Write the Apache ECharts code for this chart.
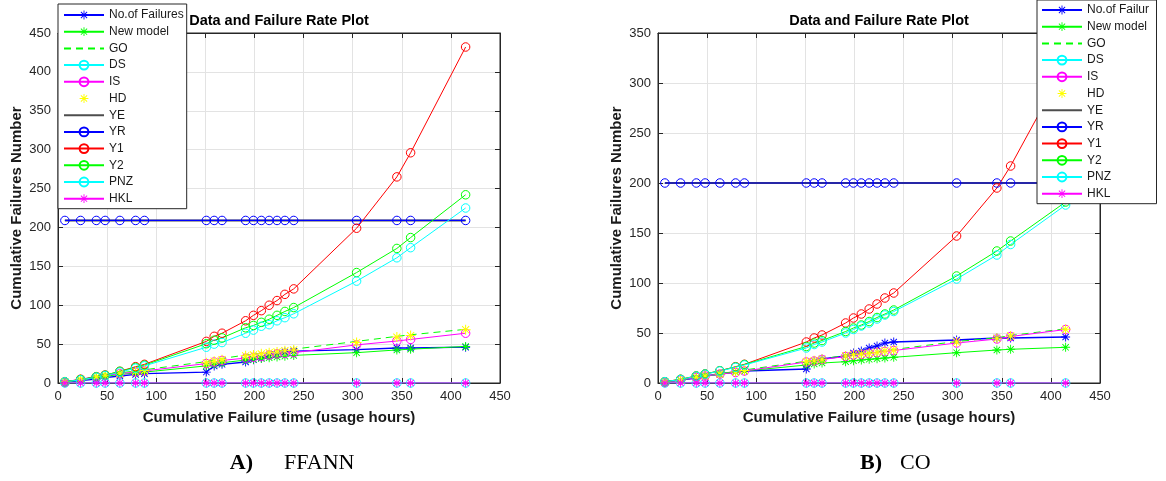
<!DOCTYPE html>
<html><head><meta charset="utf-8">
<script src="https://cdn.jsdelivr.net/npm/echarts@6/dist/echarts.min.js"></script>
<style>html,body{margin:0;padding:0;background:#fff}#c{width:1166px;height:481px}</style>
</head><body><div id="c"></div>
<script>
// ---- data ----
const time = [7, 23, 39, 48, 63, 79, 88, 151, 159, 167, 191, 199, 207, 215, 223, 231, 240, 304, 345, 359, 415];
const xTicks = [0, 50, 100, 150, 200, 250, 300, 350, 400, 450];
const yTicksA = [0, 50, 100, 150, 200, 250, 300, 350, 400, 450];
const yTicksB = [0, 50, 100, 150, 200, 250, 300, 350];
const legendNames = ['No.of Failures','New model','GO','DS','IS','HD','YE','YR','Y1','Y2','PNZ','HKL'];

const failures = [1, 3, 5, 7, 9, 11, 12, 14, 22, 24, 27, 30, 32, 35, 37, 40, 41, 43, 45, 45, 46];
const zeros    = [0, 0, 0, 0, 0, 0, 0, 0, 0, 0, 0, 0, 0, 0, 0, 0, 0, 0, 0, 0, 0];

// A) FFANN
const newA = [1.5, 4, 7, 8.5, 11, 13, 14, 22, 24, 26, 29.5, 30.5, 31.5, 32.5, 33.5, 34.5, 35.5, 39, 42.5, 43.5, 47];
const goA  = [1.5, 5, 8.5, 10.5, 13, 15.5, 17, 27.5, 29.5, 31.5, 36, 37, 38.5, 40, 41, 42.5, 43.5, 53.5, 60, 62, 69];
const isA  = [1.5, 5, 8, 10, 12, 14, 15.5, 25, 27, 29, 32, 33, 34, 36, 37.5, 38, 39, 49, 54, 56, 64];
const hdA  = [1.5, 5, 8, 10, 12, 14.5, 16, 26, 28, 30, 35, 36, 37.5, 39, 40, 41.5, 42.5, 52, 59, 61, 68.5];
const yeA  = [209, 209, 209, 209, 209, 209, 209, 209, 209, 209, 209, 209, 209, 209, 209, 209, 209, 209, 209, 209, 209];
const yrA  = [209, 209, 209, 209, 209, 209, 209, 209, 209, 209, 209, 209, 209, 209, 209, 209, 209, 209, 209, 209, 209];
const y1A  = [1.5, 4.5, 8, 10, 15, 21, 24, 53.5, 60, 64, 80, 87, 93, 100, 106, 114, 121, 199, 265, 296, 432];
const y2A  = [1.5, 4.5, 8, 10, 15, 20, 23, 50.5, 55, 58, 71, 74, 78, 82, 87, 92, 97, 142, 173, 187, 242];
const pnzA = [1.5, 4, 7.5, 9.5, 14, 19, 22, 46, 50, 52, 64, 68, 73, 75, 80, 84, 89, 131, 161, 174, 225];

// B) CO
const newB = [1, 3, 5.5, 7, 8.5, 11, 12, 18, 19, 20, 21.3, 22.3, 23, 23.7, 24.3, 25, 25.7, 30.3, 33, 33.7, 35.7];
const goB  = [1.2, 3.3, 6, 7.4, 9.4, 11.5, 13, 21.8, 22.8, 24.2, 27.5, 28.8, 29.5, 30.2, 31.2, 32.5, 33.5, 41.5, 45.2, 47.5, 54.2];
const isB  = [1, 3, 5.5, 7, 9, 10.5, 12, 21, 22, 23.5, 26.5, 28, 28.5, 29.5, 30.5, 31.5, 32.5, 40, 44, 46.5, 53.5];
const hdB  = [1, 3, 5.7, 7, 9, 11, 12.5, 21.3, 22.3, 23.7, 27, 28.3, 29, 29.7, 30.7, 32, 33, 41, 44.7, 47, 53.7];
const yeB  = [200, 200, 200, 200, 200, 200, 200, 200, 200, 200, 200, 200, 200, 200, 200, 200, 200, 200, 200, 200, 200];
const yrB  = [200, 200, 200, 200, 200, 200, 200, 200, 200, 200, 200, 200, 200, 200, 200, 200, 200, 200, 200, 200, 200];
const y1B  = [1.3, 3.7, 7, 9, 12.3, 16.3, 18.7, 41, 45, 48, 60, 65, 69, 74, 79, 85, 90, 147, 195, 217, 318];
const y2B  = [1.3, 3.7, 7, 9, 12.3, 16, 18.5, 36.5, 40, 42.5, 51.5, 55, 58, 61.5, 65.5, 69, 73, 107, 132, 142, 181];
const pnzB = [1.3, 3.5, 6.8, 8.8, 12, 15.7, 18, 35, 38.5, 41, 50, 53.5, 57, 60, 64, 68, 71.5, 104, 128, 138.5, 178];

// ---- styling ----
const FONT = 'Liberation Sans, Arial, Helvetica, sans-serif';
const STAR = 'path://M9 0L11 0L11 20L9 20Z M0 9L20 9L20 11L0 11Z M3.64 2.22L17.78 16.36L16.36 17.78L2.22 3.64Z M16.36 2.22L17.78 3.64L3.64 17.78L2.22 16.36Z';
const COL = {b:'#0000ff', g:'#00ff00', c:'#00ffff', m:'#ff00ff', y:'#ffff00', r:'#ff0000', k:'#4d4d4d'};

function ser(gi, name, ys, color, kind, opt) {
  opt = opt || {};
  const s = {
    type: 'line', name: name, xAxisIndex: gi * 2, yAxisIndex: gi * 2,
    data: time.map((t, i) => [t, ys[i]]),
    lineStyle: {color: color, width: opt.lw || 1, type: opt.dash || 'solid', opacity: opt.noLine ? 0 : 1},
    symbol: 'none', symbolSize: 9, showSymbol: true, showAllSymbol: true,
    itemStyle: {color: color, opacity: 0},
    emphasis: {disabled: true}, silent: true, animation: false
  };
  if (kind === 'circle') {
    s.symbol = 'circle'; s.symbolSize = 8.5;
    s.itemStyle = {color: 'rgba(255,255,255,0)', borderColor: color, borderWidth: 1};
  } else if (kind === 'star') {
    s.symbol = STAR; s.symbolSize = opt.ss || 9;
    s.itemStyle = {color: color};
  }
  return s;
}
function group(gi, d) {
  return [
    ser(gi, 'No.of Failures', failures, COL.b, 'star', {lw: 1.3}),
    ser(gi, 'New model', d.nw, COL.g, 'star'),
    ser(gi, 'GO', d.go, COL.g, 'none', {dash: [7, 5]}),
    ser(gi, 'DS', zeros, COL.c, 'circle'),
    ser(gi, 'IS', d.is, COL.m, 'circle'),
    ser(gi, 'HD', d.hd, COL.y, 'star', {noLine: true, ss: 10}),
    ser(gi, 'YE', d.ye, COL.k, 'none', {lw: 2}),
    ser(gi, 'YR', d.yr, COL.b, 'circle', {lw: 1.2}),
    ser(gi, 'Y1', d.y1, COL.r, 'circle'),
    ser(gi, 'Y2', d.y2, COL.g, 'circle'),
    ser(gi, 'PNZ', d.pnz, COL.c, 'circle'),
    ser(gi, 'HKL', zeros, COL.m, 'star')
  ];
}

const GRIDS = [{left: 58, top: 33, width: 442, height: 350}, {left: 658, top: 33, width: 442, height: 350}];
const tickInside = {show: true, inside: true, length: 5, lineStyle: {color: '#262626', width: 1}};
function xAxes(gi) {
  return [
    {type: 'value', gridIndex: gi, min: xTicks[0], max: xTicks[xTicks.length - 1], interval: xTicks[1] - xTicks[0],
     position: 'bottom', axisLine: {show: true, onZero: false, lineStyle: {color: '#262626'}}, axisTick: tickInside,
     axisLabel: {fontSize: 13, color: '#262626', fontFamily: FONT, margin: 7, showMinLabel: true, showMaxLabel: true},
     splitLine: {show: true, lineStyle: {color: '#e3e3e3', width: 1}},
     name: 'Cumulative Failure time (usage hours)', nameLocation: 'middle', nameGap: 27,
     nameTextStyle: {fontSize: 15, fontWeight: 'bold', color: '#1a1a1a', fontFamily: FONT}},
    {type: 'value', gridIndex: gi, min: xTicks[0], max: xTicks[xTicks.length - 1], interval: xTicks[1] - xTicks[0],
     position: 'top', axisLine: {show: true, onZero: false, lineStyle: {color: '#262626'}}, axisTick: tickInside,
     axisLabel: {show: false}, splitLine: {show: false}}
  ];
}
function yAxes(gi, ticks) {
  return [
    {type: 'value', gridIndex: gi, min: ticks[0], max: ticks[ticks.length - 1], interval: ticks[1] - ticks[0],
     position: 'left', axisLine: {show: true, onZero: false, lineStyle: {color: '#262626'}}, axisTick: tickInside,
     axisLabel: {fontSize: 13, color: '#262626', fontFamily: FONT, margin: 7, showMinLabel: true, showMaxLabel: true},
     splitLine: {show: true, lineStyle: {color: '#e3e3e3', width: 1}},
     name: 'Cumulative Failures Number', nameLocation: 'middle', nameGap: 34,
     nameTextStyle: {fontSize: 15, fontWeight: 'bold', color: '#1a1a1a', fontFamily: FONT}},
    {type: 'value', gridIndex: gi, min: ticks[0], max: ticks[ticks.length - 1], interval: ticks[1] - ticks[0],
     position: 'right', axisLine: {show: true, onZero: false, lineStyle: {color: '#262626'}}, axisTick: tickInside,
     axisLabel: {show: false}, splitLine: {show: false}}
  ];
}
function legend(left, top, opt) {
  return Object.assign({
    orient: 'vertical', left: left, top: top, itemWidth: 40, itemHeight: 11, itemGap: 4.7,
    padding: [5, 3, 4, 5], backgroundColor: '#ffffff', borderColor: '#262626', borderWidth: 1, borderRadius: 0,
    selectedMode: false, data: legendNames, z: 20,
    textStyle: {fontSize: 12, color: '#1a1a1a', fontFamily: FONT, lineHeight: 11}
  }, opt || {});
}

const chart = echarts.init(document.getElementById('c'), null, {renderer: 'canvas'});
chart.setOption({
  animation: false,
  backgroundColor: '#ffffff',
  grid: GRIDS.map(g => Object.assign({show: true, borderColor: '#262626', borderWidth: 1, backgroundColor: '#fff', containLabel: false}, g)),
  xAxis: xAxes(0).concat(xAxes(1)),
  yAxis: yAxes(0, yTicksA).concat(yAxes(1, yTicksB)),
  legend: [
    legend(58, 4),
    legend(1037, 0, {padding: [4, 0, 4, 4], textStyle: {fontSize: 12, color: '#1a1a1a', fontFamily: FONT, lineHeight: 11, width: 69.5, overflow: 'truncate', ellipsis: ''}})
  ],
  series: group(0, {nw: newA, go: goA, is: isA, hd: hdA, ye: yeA, yr: yrA, y1: y1A, y2: y2A, pnz: pnzA})
    .concat(group(1, {nw: newB, go: goB, is: isB, hd: hdB, ye: yeB, yr: yrB, y1: y1B, y2: y2B, pnz: pnzB})),
  graphic: [
    {type: 'text', x: 279, y: 21, z: 10, style: {text: 'Data and Failure Rate Plot', font: 'bold 14.5px ' + FONT, fill: '#000', align: 'center', verticalAlign: 'middle'}},
    {type: 'text', x: 879, y: 21, z: 10, style: {text: 'Data and Failure Rate Plot', font: 'bold 14.5px ' + FONT, fill: '#000', align: 'center', verticalAlign: 'middle'}},
    {type: 'text', x: 253, y: 463, style: {text: 'A)', font: 'bold 22px "Liberation Serif", "Times New Roman", serif', fill: '#000', align: 'right', verticalAlign: 'middle'}},
    {type: 'text', x: 284, y: 463, style: {text: 'FFANN', font: '22px "Liberation Serif", "Times New Roman", serif', fill: '#000', align: 'left', verticalAlign: 'middle'}},
    {type: 'text', x: 882, y: 463, style: {text: 'B)', font: 'bold 22px "Liberation Serif", "Times New Roman", serif', fill: '#000', align: 'right', verticalAlign: 'middle'}},
    {type: 'text', x: 900, y: 463, style: {text: 'CO', font: '22px "Liberation Serif", "Times New Roman", serif', fill: '#000', align: 'left', verticalAlign: 'middle'}}
  ]
});
</script>
</body></html>
